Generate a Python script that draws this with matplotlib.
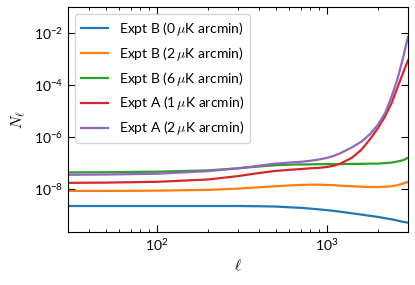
import numpy as np
import matplotlib
matplotlib.use("Agg")
import matplotlib.pyplot as plt
from matplotlib.ticker import NullLocator, FixedLocator

plt.rcParams['mathtext.fontset'] = 'cm'
plt.rcParams['font.family'] = ['Lato', 'DejaVu Sans']

ell = np.array([30, 50, 100, 200, 300, 400, 500, 600, 700, 800, 900, 1000, 1100,
                1200, 1400, 1600, 1800, 2000, 2200, 2400, 2600, 2800, 3000])

# log10 of N_ell
logN_B0 = [-8.65, -8.65, -8.65, -8.65, -8.65, -8.66, -8.67, -8.70, -8.72, -8.75, -8.78, -8.81,
           -8.84, -8.87, -8.93, -8.98, -9.03, -9.07, -9.12, -9.16, -9.21, -9.26, -9.29]
logN_B2 = [-8.07, -8.07, -8.06, -8.03, -7.98, -7.93, -7.89, -7.86, -7.84, -7.83, -7.83, -7.84,
           -7.85, -7.87, -7.89, -7.91, -7.92, -7.92, -7.91, -7.89, -7.85, -7.79, -7.72]
logN_B6 = [-7.36, -7.35, -7.33, -7.28, -7.20, -7.13, -7.08, -7.06, -7.05, -7.05, -7.04, -7.04,
           -7.04, -7.04, -7.03, -7.03, -7.02, -7.02, -7.00, -6.98, -6.94, -6.89, -6.80]
logN_A1 = [-7.76, -7.75, -7.72, -7.63, -7.50, -7.38, -7.30, -7.26, -7.23, -7.20, -7.18, -7.15,
           -7.10, -7.02, -6.80, -6.48, -6.07, -5.65, -5.20, -4.70, -4.10, -3.55, -3.05]
logN_A2 = [-7.45, -7.44, -7.41, -7.31, -7.20, -7.10, -7.02, -6.98, -6.95, -6.91, -6.86, -6.80,
           -6.72, -6.62, -6.40, -6.17, -5.88, -5.52, -5.08, -4.45, -3.78, -2.98, -2.15]

labels = [r"Expt B (0$\,\mu$K arcmin)",
          r"Expt B (2$\,\mu$K arcmin)",
          r"Expt B (6$\,\mu$K arcmin)",
          r"Expt A (1$\,\mu$K arcmin)",
          r"Expt A (2$\,\mu$K arcmin)"]
colors = ['#1f77b4', '#ff7f0e', '#2ca02c', '#d62728', '#9467bd']
series = [logN_B0, logN_B2, logN_B6, logN_A1, logN_A2]

fig = plt.figure(figsize=(4.15, 2.85), dpi=100)
ax = fig.add_axes([0.164, 0.186, 0.819, 0.789])

for s, c, lab in zip(series, colors, labels):
    ax.plot(ell, 10.0 ** np.array(s), color=c, lw=1.6, label=lab)

ax.set_xscale('log')
ax.set_yscale('log')
ax.set_xlim(30, 3000)
ax.set_ylim(10 ** -9.65, 1e-1)
ax.yaxis.set_major_locator(FixedLocator([1e-8, 1e-6, 1e-4, 1e-2]))
ax.yaxis.set_minor_locator(NullLocator())

ax.tick_params(which='both', direction='in', top=True, right=True, labelsize=10)
ax.tick_params(which='major', length=5, width=0.8)
ax.tick_params(which='minor', length=2.5, width=0.6)

ax.set_xlabel(r'$\ell$', fontsize=11)
ax.set_ylabel(r'$N_\ell$', fontsize=11)

ax.legend(loc='upper left', fontsize=10, frameon=True, framealpha=0.8,
          edgecolor='#cccccc', handlelength=2.0, borderaxespad=0.5)

fig.savefig('out.png', dpi=100)
